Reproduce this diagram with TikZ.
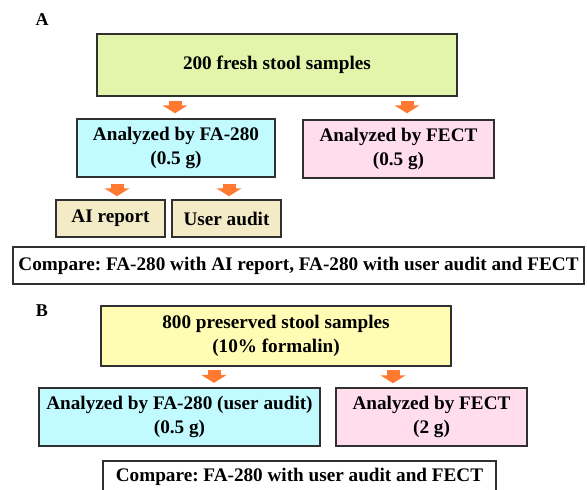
\documentclass[tikz,border=0pt]{standalone}
\usepackage{fontspec}
\setmainfont{Liberation Serif}
\usetikzlibrary{arrows.meta}
\definecolor{limefill}{HTML}{E2F5AA}
\definecolor{cyanfill}{HTML}{C2FBFF}
\definecolor{pinkfill}{HTML}{FFDDED}
\definecolor{beigefill}{HTML}{F3EBC6}
\definecolor{lemonfill}{HTML}{FFFCB3}
\definecolor{blockorange}{HTML}{FF7A30}
\definecolor{edgegray}{HTML}{303030}
\frenchspacing
\begin{document}
\begin{tikzpicture}[
					x=1pt,y=-1pt,
					font=\fontsize{19.2}{24}\selectfont\bfseries,
					box/.style={rectangle,draw=edgegray,line width=1.5pt,align=center,inner sep=0pt},
					blockarr/.style={blockorange,line width=13pt,-{Triangle[length=8pt 0,width=25pt 0]}},
					panel/.style={font=\fontsize{18}{20}\selectfont\bfseries},
					]
					\useasboundingbox (0,0) rectangle (587,490);
					\clip (0,0) rectangle (587,490);
					\node [panel] (labA) at (42,20) {A};
					\node [box,fill=limefill,minimum width=360,minimum height=62] (topA) at (277,65) {200 fresh stool samples};
					\node [box,fill=cyanfill,minimum width=198,minimum height=58] (faA) at (176,148) {Analyzed by FA-280\\(0.5 g)};
					\node [box,fill=pinkfill,minimum width=191,minimum height=58] (fectA) at (398.5,149) {Analyzed by FECT\\(0.5 g)};
					\node [box,fill=beigefill,minimum width=109,minimum height=37] (aiA) at (110.5,218.5) {AI report};
					\node [box,fill=beigefill,minimum width=109,minimum height=37] (userA) at (226.5,218.5) {User audit};
					\node [box,minimum width=571,minimum height=37] (cmpA) at (298.5,265.5) {Compare: FA-280 with AI report, FA-280 with user audit and FECT};
					\draw[blockarr,shorten <=4pt,shorten >=5pt] (topA.south -| 175,0) -- (faA.north -| 175,0);
					\draw[blockarr,shorten <=4pt,shorten >=6pt] (topA.south -| 407,0) -- (fectA.north -| 407,0);
					\draw[blockarr,shorten <=6pt,shorten >=3pt] (faA.south -| 117,0) -- (aiA.north -| 117,0);
					\draw[blockarr,shorten <=6pt,shorten >=3pt] (faA.south -| 229,0) -- (userA.north -| 229,0);
					\node [panel] (labB) at (42,311) {B};
					\node [box,fill=lemonfill,minimum width=350,minimum height=60] (topB) at (276,336) {800 preserved stool samples\\(10\% formalin)};
					\node [box,fill=cyanfill,line width=2.2pt,minimum width=281,minimum height=58] (faB) at (179.5,417) {Analyzed by FA-280 (user audit)\\(0.5 g)};
					\node [box,fill=pinkfill,minimum width=191,minimum height=58] (fectB) at (431.5,417) {Analyzed by FECT\\(2 g)};
					\node [box,minimum width=393,minimum height=32] (cmpB) at (299.5,477) {Compare: FA-280 with user audit and FECT};
					\draw[blockarr,shorten <=3pt,shorten >=4pt] (topB.south -| 214,0) -- (faB.north -| 214,0);
					\draw[blockarr,shorten <=3pt,shorten >=4pt] (topB.south -| 393,0) -- (fectB.north -| 393,0);
				\end{tikzpicture}
\end{document}
